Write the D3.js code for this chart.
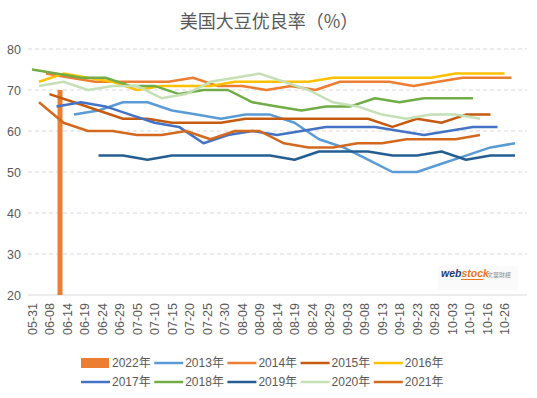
<!DOCTYPE html>
<html><head><meta charset="utf-8">
<script src="https://cdn.jsdelivr.net/npm/d3@7"></script>
<style>body{margin:0;background:#fff}svg{display:block}</style>
</head><body>
<svg id="chart" width="537" height="398"></svg>
<script>
// ---------- data ----------
const title = "美国大豆优良率（%）";
const xLabels = ["05-31","06-08","06-14","06-19","06-24","06-29","07-05","07-10","07-15","07-20","07-25","07-30","08-04","08-09","08-14","08-19","08-24","08-29","09-03","09-08","09-13","09-18","09-23","09-28","10-03","10-10","10-16","10-26"];
const yTicks = [20, 30, 40, 50, 60, 70, 80];
const axisOrigin = "06-05";   // date under the first label
const daysPerLabel = 5;

const lineYears  = ["2013年","2014年","2015年","2016年","2017年","2018年","2019年","2020年","2021年"];
const startDates = ["06-17","06-09","06-10","06-07","06-12","06-05","06-24","06-07","06-07"];
const v2013 = [64,65,67,67,65,64,63,64,64,62,58,56,53,50,50,52,54,56,57];
const v2014 = [74,73,72,72,72,72,73,71,71,70,71,70,72,72,72,71,72,73,73,73];
const v2015 = [69,67,65,63,63,62,62,62,63,63,63,63,63,63,61,63,62,64,64];
const v2016 = [72,74,73,72,70,71,71,71,72,72,72,72,73,73,73,73,73,74,74,74];
const v2017 = [66,67,66,64,62,61,57,59,60,59,60,61,61,61,60,59,60,61,61];
const v2018 = [75,74,73,73,71,71,69,70,70,67,66,65,66,66,68,67,68,68,68];
const v2019 = [54,54,53,54,54,54,54,54,53,55,55,55,54,54,55,53,54,54];
const v2020 = [71,72,70,71,71,68,69,72,73,74,72,70,67,66,64,63,64,64,63];
const v2021 = [67,62,60,60,59,59,60,58,60,60,57,56,56,57,57,58,58,58,59];
const lineValues = [v2013,v2014,v2015,v2016,v2017,v2018,v2019,v2020,v2021];
const lineColors = ["#5B9BD5","#ED7D31","#C55A11","#FFC000","#4472C4","#70AD47","#255E91","#C5E0B4","#D2691E"];

const barYear = "2022年";
const barDates = ["06-13"];
const barValues = [70];
const barColor = "#ED7D31";

const legendOrder = ["2022年","2013年","2014年","2015年","2016年","2017年","2018年","2019年","2020年","2021年"];

// ---------- layout ----------
const svg = d3.select("#chart");
const textColor = "#595959";
const parseMD = d3.timeParse("%m-%d");
const origin = parseMD(axisOrigin);
const dayOf = s => d3.timeDay.count(origin, parseMD(s));

const plotLeft = 28, plotRight = 527;
const x = d3.scaleLinear().domain([0, (xLabels.length - 1) * daysPerLabel]).range([32, 504.5]);
const xCat = d3.scalePoint().domain(xLabels).range(x.range());
const y = d3.scaleLinear().domain([20, 80]).range([295, 49]);

// title
svg.append("text").attr("x", 269).attr("y", 28).attr("text-anchor", "middle")
  .attr("font-family", "'Noto Sans CJK SC', sans-serif").attr("font-size", 18)
  .attr("fill", textColor).text(title);

// gridlines
svg.append("g").selectAll("line").data(yTicks).join("line")
  .attr("x1", plotLeft).attr("x2", plotRight)
  .attr("y1", d => y(d)).attr("y2", d => y(d))
  .attr("stroke", "#D9D9D9").attr("stroke-width", 1)
  .attr("stroke-dasharray", d => d === 20 ? null : "4,3");

// y axis
const gy = svg.append("g").attr("transform", "translate(21,0)")
  .call(d3.axisLeft(y).tickValues(yTicks).tickSize(0).tickPadding(0));
gy.select(".domain").remove();
gy.selectAll("text").attr("font-family", "'Liberation Sans', Arial, sans-serif")
  .attr("font-size", 12.5).attr("fill", textColor);

// x axis
const gx = svg.append("g").attr("transform", "translate(0,295)")
  .call(d3.axisBottom(xCat).tickSize(0));
gx.select(".domain").remove();
gx.selectAll("text").attr("font-family", "'Liberation Sans', Arial, sans-serif")
  .attr("font-size", 12.5).attr("fill", textColor)
  .attr("transform", "rotate(-90)").attr("text-anchor", "end")
  .attr("x", -8).attr("y", 0).attr("dy", "0.35em");

// watermark
const wm = svg.append("g");
wm.append("rect").attr("x", 438).attr("y", 266).attr("width", 80).attr("height", 24).attr("fill", "#FAFAFA");
const wt = wm.append("text").attr("x", 441).attr("y", 277)
  .attr("font-family", "'Liberation Sans', Arial, sans-serif").attr("font-size", 10.5)
  .attr("font-weight", "bold").attr("font-style", "italic");
wt.append("tspan").attr("fill", "#1F3C78").text("web");
wt.append("tspan").attr("fill", "#E9771C").text("stock");
wm.append("line").attr("x1", 461).attr("x2", 483).attr("y1", 279.5).attr("y2", 279.5)
  .attr("stroke", "#E9771C").attr("stroke-width", 1);
wm.append("text").attr("x", 487).attr("y", 277)
  .attr("font-family", "'Noto Sans CJK TC', sans-serif").attr("font-size", 6)
  .attr("fill", "#8C8C8C").text("文華財經");

// 2022 bar
const barW = 5;
svg.append("g").selectAll("rect").data(barValues).join("rect")
  .attr("x", (d, i) => x(dayOf(barDates[i])) - barW / 2)
  .attr("width", barW)
  .attr("y", d => y(d)).attr("height", d => y(20) - y(d))
  .attr("fill", barColor);

// lines
const line = d3.line().x(d => x(d.day)).y(d => y(d.v)).curve(d3.curveLinear);
lineValues.forEach((vals, i) => {
  const s = dayOf(startDates[i]);
  const pts = vals.map((v, k) => ({ day: s + 7 * k, v }));
  svg.append("path").datum(pts).attr("d", line)
    .attr("fill", "none").attr("stroke", lineColors[i])
    .attr("stroke-width", 2.5).attr("stroke-linejoin", "round");
});

// legend
const colorOf = name => name === barYear ? barColor : lineColors[lineYears.indexOf(name)];
const lg = svg.append("g").selectAll("g").data(legendOrder).join("g")
  .attr("transform", (d, i) => `translate(${81 + (i % 5) * 73.2},${i < 5 ? 363 : 382})`);
lg.each(function (d) {
  const g = d3.select(this);
  if (d === barYear) {
    g.append("rect").attr("x", 0).attr("y", -5).attr("width", 28).attr("height", 10).attr("fill", colorOf(d));
  } else {
    g.append("line").attr("x1", 0).attr("x2", 29).attr("y1", 0).attr("y2", 0)
      .attr("stroke", colorOf(d)).attr("stroke-width", 2.5);
  }
  g.append("text").attr("x", 31).attr("y", 0).attr("dy", "0.35em")
    .attr("font-family", "'Liberation Sans', 'Noto Sans CJK SC', sans-serif")
    .attr("font-size", 12).attr("fill", textColor).text(d);
});
</script>
</body></html>
